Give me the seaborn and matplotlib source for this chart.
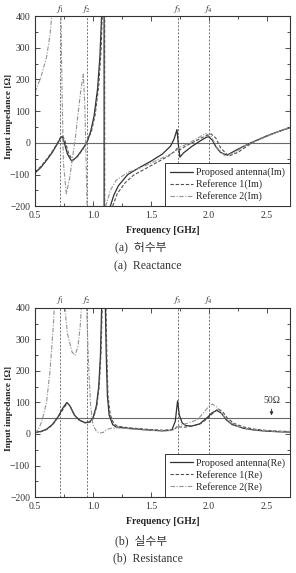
import numpy as np
import pandas as pd
import seaborn as sns
from matplotlib import pyplot as plt
from matplotlib.ticker import MultipleLocator

# resonance markers [GHz]
f_marks = [0.72, 0.945, 1.73, 2.0]
f_names = [r'$f_1$', r'$f_2$', r'$f_3$', r'$f_4$']

# ---- (a) reactance, Im part ----
prop_im_f = [0.5, 0.55, 0.6, 0.65, 0.69, 0.72, 0.735, 0.75, 0.78, 0.817, 0.86, 0.9, 0.946, 0.98,
             1.01, 1.04, 1.06, 1.075, 1.09, 1.096, 1.097, 1.12, 1.15, 1.18, 1.22, 1.3, 1.4, 1.5,
             1.6, 1.67, 1.7, 1.725, 1.735, 1.75, 1.78, 1.85, 1.92, 1.98, 2.0, 2.03, 2.06, 2.1,
             2.155, 2.25, 2.36, 2.5, 2.6, 2.7]
prop_im = [-95, -78, -55, -30, -5, 15, 20, 5, -35, -58, -45, -25, 0, 35,
           85, 170, 270, 400, 800, 1500, -1500, -400, -200, -165, -135, -100, -78, -58,
           -35, -10, 12, 42, 0, -45, -32, -12, 5, 18, 19, 8, -12, -30,
           -39, -20, 0, 22, 36, 48]

ref1_im_f = [0.5, 0.55, 0.6, 0.65, 0.69, 0.72, 0.74, 0.76, 0.79, 0.825, 0.87, 0.91, 0.95, 0.99,
             1.02, 1.05, 1.07, 1.08, 1.095, 1.101, 1.102, 1.14, 1.17, 1.21, 1.28, 1.35, 1.45,
             1.55, 1.65, 1.71, 1.73, 1.75, 1.8, 1.88, 1.96, 2.02, 2.06, 2.1, 2.17, 2.25, 2.33,
             2.4, 2.52, 2.7]
ref1_im = [-92, -75, -52, -27, -3, 17, 22, 5, -33, -55, -42, -22, 3, 40,
           90, 180, 290, 400, 900, 1500, -1500, -350, -200, -160, -125, -102, -82,
           -62, -42, -25, -15, -22, -10, 5, 20, 28, 15, -15, -42, -30, -10,
           5, 25, 48]

ref2_im_f = [0.5, 0.55, 0.6, 0.63, 0.645, 0.68, 0.72, 0.73, 0.745, 0.77, 0.8, 0.85, 0.89,
             0.917, 0.93, 0.945, 0.96, 1.0, 1.08, 1.11, 1.15, 1.2, 1.3, 1.4, 1.5, 1.6, 1.7,
             1.73, 1.76, 1.82, 1.9, 1.97, 2.02, 2.07, 2.14, 2.22, 2.32, 2.4, 2.55, 2.7]
ref2_im = [160, 205, 270, 340, 400, 900, 550, 250, -60, -160, -110, 20, 150,
           217, 120, -120, -400, -600, -400, -200, -150, -118, -93, -80, -64, -47, -30,
           -20, -12, -2, 14, 30, 20, -15, -42, -30, -8, 5, 28, 50]

# ---- (b) resistance, Re part ----
prop_re_f = [0.5, 0.55, 0.6, 0.65, 0.7, 0.74, 0.775, 0.8, 0.84, 0.88, 0.93, 0.97, 1.0, 1.03,
             1.05, 1.065, 1.075, 1.085, 1.095, 1.105, 1.115, 1.125, 1.14, 1.17, 1.2, 1.3, 1.4,
             1.5, 1.6, 1.68, 1.71, 1.73, 1.745, 1.77, 1.8, 1.85, 1.92, 1.98, 2.03, 2.07, 2.11,
             2.15, 2.2, 2.3, 2.4, 2.5, 2.6, 2.7]
prop_re = [5, 8, 15, 30, 55, 82, 100, 90, 60, 45, 36, 38, 50, 90,
           150, 250, 400, 600, 650, 450, 250, 120, 60, 30, 22, 18, 15,
           12, 10, 12, 40, 105, 60, 35, 27, 25, 32, 50, 68, 75, 65,
           45, 30, 18, 12, 9, 7, 6]

ref1_re_f = [0.5, 0.55, 0.6, 0.65, 0.7, 0.745, 0.78, 0.805, 0.845, 0.885, 0.935, 0.975, 1.005,
             1.035, 1.055, 1.07, 1.08, 1.09, 1.1, 1.11, 1.12, 1.13, 1.15, 1.18, 1.21, 1.3, 1.4,
             1.5, 1.6, 1.7, 1.73, 1.75, 1.8, 1.86, 1.93, 1.99, 2.04, 2.08, 2.12, 2.16, 2.22,
             2.3, 2.4, 2.5, 2.6, 2.7]
ref1_re = [4, 7, 14, 28, 52, 80, 98, 88, 58, 43, 35, 37, 50,
           92, 155, 260, 400, 600, 650, 450, 250, 120, 60, 33, 25, 20, 17,
           14, 12, 14, 25, 22, 22, 25, 33, 50, 68, 80, 70, 50, 33,
           22, 15, 11, 9, 8]

ref2_re_f = [0.5, 0.53, 0.56, 0.6, 0.63, 0.66, 0.68, 0.7, 0.72, 0.75, 0.78, 0.82, 0.845, 0.87,
             0.89, 0.905, 0.92, 0.935, 0.95, 0.965, 0.98, 1.0, 1.03, 1.06, 1.09, 1.11, 1.15,
             1.2, 1.3, 1.4, 1.5, 1.6, 1.68, 1.72, 1.76, 1.82, 1.9, 1.96, 2.0, 2.03, 2.07, 2.12,
             2.18, 2.25, 2.35, 2.45, 2.6, 2.7]
ref2_re = [2, 15, 40, 100, 200, 350, 500, 650, 600, 430, 320, 260, 250, 275,
           340, 430, 550, 500, 350, 200, 90, 30, 8, 3, 5, 12, 18,
           20, 17, 14, 12, 10, 11, 20, 28, 35, 45, 70, 88, 95, 85, 60,
           38, 24, 15, 11, 8, 7]

x_ticks = [0.5, 1.0, 1.5, 2.0, 2.5]
y_ticks = [-200, -100, 0, 100, 200, 300, 400]

sns.set_style('ticks')
plt.rcParams['font.family'] = ['Liberation Serif', 'Noto Sans CJK KR']
plt.rcParams['mathtext.fontset'] = 'stix'

fig = plt.figure(figsize=(2.96, 5.73), dpi=100)
ax1 = fig.add_axes([0.118, 0.640, 0.862, 0.332])
ax2 = fig.add_axes([0.118, 0.1326, 0.862, 0.330])

styles = [('#303030', '-', 0.9), ('#505050', (0, (3, 1.6)), 0.8), ('#939393', (0, (4, 1.4, 1, 1.4)), 0.8)]


def draw_panel(ax, series, tag, ref_level):
    for (f, v, name), (col, ls, lw) in zip(series, styles):
        df = pd.DataFrame({'Frequency': f, 'Impedance': v})
        sns.lineplot(data=df, x='Frequency', y='Impedance', ax=ax, sort=False,
                     color=col, linestyle=ls, linewidth=lw, label=name + tag)
    ax.axhline(ref_level, color='#6a6a6a', lw=0.8, zorder=1)
    for fx, fn in zip(f_marks, f_names):
        ax.axvline(fx, color='#606060', ls=(0, (2.5, 1.8)), lw=0.6, zorder=1)
        ax.text(fx, 1.008, fn, transform=ax.get_xaxis_transform(), ha='center', va='bottom',
                fontsize=6.5, color='#333333')
    ax.set_xlim(0.5, 2.7)
    ax.set_ylim(-200, 400)
    ax.set_xticks(x_ticks)
    ax.set_xticklabels(['0.5', '1.0', '1.5', '2.0', '2.5'])
    ax.set_yticks(y_ticks)
    ax.xaxis.set_minor_locator(MultipleLocator(0.25))
    ax.yaxis.set_minor_locator(MultipleLocator(50))
    ax.tick_params(which='both', direction='in', top=True, right=True, labelsize=7,
                   colors='#333333', width=0.6)
    ax.tick_params(which='major', length=3.5)
    ax.tick_params(which='minor', length=2)
    for sp in ax.spines.values():
        sp.set_linewidth(0.8)
        sp.set_color('#333333')
    ax.set_xlabel('Frequency [GHz]', fontsize=7, fontweight='bold', color='#222222')
    ax.set_ylabel('Input impedance [Ω]', fontsize=6.8, fontweight='bold', color='#222222')
    ax.xaxis.set_label_coords(0.5, -0.105)
    ax.yaxis.set_label_coords(-0.085, 0.47)
    leg = ax.legend(loc='lower right', fontsize=7.2, frameon=True, fancybox=False,
                    edgecolor='#333333', framealpha=1, borderaxespad=0, handlelength=2.3,
                    borderpad=0.5, labelspacing=0.2, handletextpad=0.3)
    leg.get_frame().set_linewidth(0.7)


draw_panel(ax1, [(prop_im_f, prop_im, 'Proposed antenna'),
                 (ref1_im_f, ref1_im, 'Reference 1'),
                 (ref2_im_f, ref2_im, 'Reference 2')], '(Im)', 0)
draw_panel(ax2, [(prop_re_f, prop_re, 'Proposed antenna'),
                 (ref1_re_f, ref1_re, 'Reference 1'),
                 (ref2_re_f, ref2_re, 'Reference 2')], '(Re)', 50)

ax2.annotate('', xy=(2.54, 50), xytext=(2.54, 88),
             arrowprops=dict(arrowstyle='-|>', color='#333333', lw=0.6, mutation_scale=5))
ax2.text(2.54, 92, '50Ω', ha='center', va='bottom', fontsize=7, color='#333333')

fig.text(0.476, 1 - 247 / 573, '(a)  허수부', ha='center', va='center', fontsize=8.5, color='#333333')
fig.text(0.5, 1 - 266 / 573, '(a)  Reactance', ha='center', va='center', fontsize=8.5, color='#333333')
fig.text(0.476, 1 - 541 / 573, '(b)  실수부', ha='center', va='center', fontsize=8.5, color='#333333')
fig.text(0.5, 1 - 558 / 573, '(b)  Resistance', ha='center', va='center', fontsize=8.5, color='#333333')

fig.savefig('out.png', dpi=100)
